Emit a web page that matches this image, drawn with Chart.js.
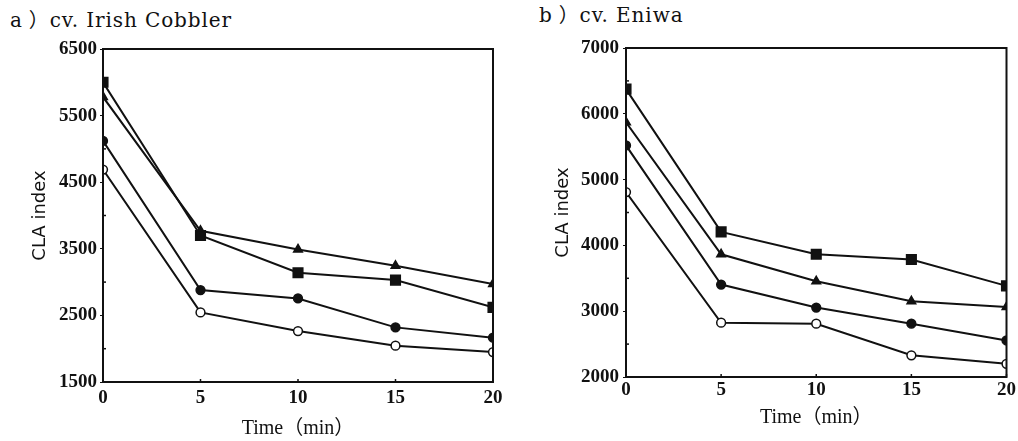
<!DOCTYPE html>
<html>
<head>
<meta charset="utf-8">
<script src="https://cdn.jsdelivr.net/npm/chart.js@4/dist/chart.umd.min.js"></script>
<style>
  html, body { margin: 0; padding: 0; background: #fff; }
  body { width: 1018px; height: 441px; position: relative; overflow: hidden; }
  .wrap { position: absolute; top: 0; width: 509px; height: 441px; }
  .ptitle { position: absolute; font-family: "DejaVu Serif", serif; font-size: 20px; line-height: 1; color: #111; white-space: nowrap; letter-spacing: 0.9px; }
  .ptitle .fw { font-family: "Noto Sans CJK JP", sans-serif; margin-left: 6px; }
</style>
</head>
<body>
<div class="ptitle" style="left:10px; top:9px;">a<span class="fw">）</span>cv. Irish Cobbler</div>
<div class="ptitle" style="left:539px; top:4px;">b<span class="fw">）</span>cv. Eniwa</div>
<div class="wrap" style="left:0px;"><canvas id="c1" width="509" height="441"></canvas></div>
<div class="wrap" style="left:509px;"><canvas id="c2" width="509" height="441"></canvas></div>
<script>
// ---- data ----
const timePoints = [0, 5, 10, 15, 20];

// a) cv. Irish Cobbler
const cobblerSquare   = [6000, 3700, 3140, 3030, 2620];
const cobblerTriangle = [5780, 3770, 3490, 3245, 2970];
const cobblerCircle   = [5120, 2880, 2755, 2320, 2165];
const cobblerOpen     = [4690, 2545, 2265, 2045, 1950];
const cobblerYTicks   = [1500, 2500, 3500, 4500, 5500, 6500];

// b) cv. Eniwa
const eniwaSquare   = [6375, 4205, 3865, 3785, 3385];
const eniwaTriangle = [5870, 3865, 3455, 3150, 3065];
const eniwaCircle   = [5520, 3405, 3055, 2810, 2555];
const eniwaOpen     = [4810, 2825, 2810, 2330, 2200];
const eniwaYTicks   = [2000, 3000, 4000, 5000, 6000, 7000];

const xTicks = [0, 5, 10, 15, 20];

function toPts(vals) { return timePoints.map((t, i) => ({ x: t, y: vals[i] })); }

function series(vals, style, radius, fill) {
  return {
    data: toPts(vals),
    borderColor: '#111',
    borderWidth: 2,
    pointStyle: style,
    pointRadius: radius,
    pointBackgroundColor: fill,
    pointBorderColor: '#111',
    pointBorderWidth: 1.5,
    tension: 0,
    fill: false
  };
}

const framePlugin = {
  id: 'frame',
  afterDraw(chart, args, opts) {
    const { ctx, chartArea: a } = chart;
    const ys = chart.scales.y, xs = chart.scales.x;
    ctx.save();
    ctx.strokeStyle = '#111';
    ctx.lineWidth = 2;
    ctx.strokeRect(a.left, a.top, a.right - a.left, a.bottom - a.top);
    ctx.lineWidth = 1.5;
    const step = opts.step;
    for (let v = ys.min + step / 2; v < ys.max; v += step) {
      const p = ys.getPixelForValue(v);
      ctx.beginPath(); ctx.moveTo(a.left, p); ctx.lineTo(a.left + 3, p); ctx.stroke();
    }
    for (const t of xTicks) {
      const p = xs.getPixelForValue(t);
      ctx.beginPath(); ctx.moveTo(p, a.bottom); ctx.lineTo(p, a.bottom - 3); ctx.stroke();
    }
    ctx.restore();
  }
};

function makeChart(id, datasets, yMin, yMax, yTicks, cfg) {
  return new Chart(document.getElementById(id), {
    type: 'line',
    data: { datasets },
    options: {
      responsive: false,
      animation: false,
      layout: { padding: { left: 0, right: cfg.padRight, top: cfg.padTop, bottom: 0 } },
      plugins: { legend: { display: false }, tooltip: { enabled: false }, frame: { step: 1000 } },
      scales: {
        x: {
          type: 'linear', min: 0, max: 20,
          afterBuildTicks: s => { s.ticks = xTicks.map(v => ({ value: v })); },
          afterFit: s => { s.height = cfg.xHeight; },
          grid: { display: true, drawOnChartArea: false, drawTicks: false, color: '#111' },
          border: { display: true, color: '#111', width: 2 },
          ticks: { color: '#111', padding: cfg.xTickPad, maxRotation: 0,
                   callback: v => String(v),
                   font: { family: '"Liberation Serif", serif', size: 19, weight: 'bold' } },
          title: { display: true, text: 'Time（min）', color: '#111',
                   padding: { top: 0, bottom: cfg.xTitlePad },
                   font: { family: '"Liberation Serif", "Noto Sans CJK JP", serif', size: 20 } }
        },
        y: {
          type: 'linear', min: yMin, max: yMax,
          afterBuildTicks: s => { s.ticks = yTicks.map(v => ({ value: v })); },
          afterFit: s => { s.width = cfg.yWidth; },
          grid: { display: true, drawOnChartArea: false, drawTicks: true, tickLength: 3, color: '#111' },
          border: { display: true, color: '#111', width: 2 },
          ticks: { color: '#111', padding: cfg.yTickPad,
                   callback: v => String(v),
                   font: { family: '"Liberation Serif", serif', size: 19, weight: 'bold' } },
          title: { display: true, text: 'CLA index', color: '#111',
                   padding: { top: cfg.yTitlePad, bottom: 0 },
                   font: { family: '"DejaVu Sans", sans-serif', size: 18 } }
        }
      }
    },
    plugins: [framePlugin]
  });
}

makeChart('c1', [
  series(cobblerSquare, 'rect', 6.8, '#111'),
  series(cobblerTriangle, 'triangle', 5, '#111'),
  series(cobblerCircle, 'circle', 4.4, '#111'),
  series(cobblerOpen, 'circle', 4.4, '#fff')
], 1500, 6500, cobblerYTicks,
{ padRight: 16, padTop: 49, xHeight: 59, yWidth: 103, xTickPad: 5, yTickPad: 3, xTitlePad: 0, yTitlePad: 30 });

makeChart('c2', [
  series(eniwaSquare, 'rect', 6.8, '#111'),
  series(eniwaTriangle, 'triangle', 5, '#111'),
  series(eniwaCircle, 'circle', 4.4, '#111'),
  series(eniwaOpen, 'circle', 4.4, '#fff')
], 2000, 7000, eniwaYTicks,
{ padRight: 7, padTop: 48, xHeight: 64, yWidth: 117, xTickPad: 2, yTickPad: 4, xTitlePad: 11, yTitlePad: 44 });
</script>
</body>
</html>
